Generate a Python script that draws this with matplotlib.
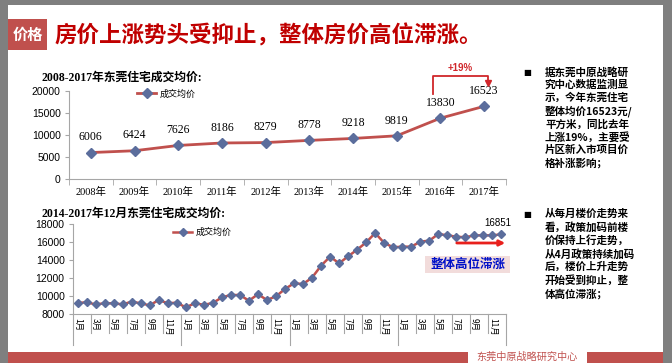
import matplotlib.pyplot as plt
from matplotlib.patches import Rectangle
from matplotlib.lines import Line2D

W, H = 672, 363

def fx(x):
    return x / W

def fy(y):
    return 1 - y / H

CJK = ['Noto Sans CJK SC', 'DejaVu Sans']
SERIF_CJK = ['Liberation Serif', 'Noto Sans CJK SC']

# 年度数据
years = ['2008年', '2009年', '2010年', '2011年', '2012年',
         '2013年', '2014年', '2015年', '2016年', '2017年']
annual_price = [6006, 6424, 7626, 8186, 8279, 8778, 9218, 9819, 13830, 16523]

# 月度数据 2014.1 - 2017.12
monthly_price = [
    9220, 9300, 9070, 9190, 9190, 9070, 9370, 9190, 8960, 9560, 9190, 9260,
    8740, 9190, 9020, 9220, 9850, 10110, 10110, 9480, 10190, 9560, 9960, 10780,
    11410, 11330, 12040, 13370, 14370, 13630, 14410, 15150, 15960, 17000, 15890, 15410,
    15480, 15480, 16040, 16150, 16890, 16740, 16590, 16520, 16740, 16740, 16740, 16851,
]
month_labels = ['1月', '3月', '5月', '7月', '9月', '11月'] * 4

text_top = ['据东莞中原战略研', '究中心数据监测显', '示，今年东莞住宅', '整体均价16523元/',
            '平方米，同比去年', '上涨19%，主要受', '片区新入市项目价', '格补涨影响；']
text_bottom = ['从每月楼价走势来', '看，政策加码前楼', '价保持上行走势，', '从4月政策持续加码',
               '后，楼价上升走势', '开始受到抑止，整', '体高位滞涨；']

line_c = '#c0504d'
mark_c = '#5b6d9c'
axis_c = '#a6a6a6'

fig = plt.figure(figsize=(6.72, 3.63), dpi=100)
fig.patch.set_facecolor('#7f7f7f')
fig.add_artist(Rectangle((fx(8), 0), fx(663) - fx(8), fy(5), transform=fig.transFigure,
                         facecolor='white', edgecolor='none', zorder=-10))

# 标题
fig.add_artist(Rectangle((fx(8), fy(50)), fx(47) - fx(8), (50 - 19) / H, transform=fig.transFigure,
                         facecolor='#c0504d', edgecolor='none'))
fig.text(fx(27.5), fy(35), '价格', color='white', fontsize=11, fontweight='bold',
         family=CJK, ha='center', va='center')
fig.text(fx(55), fy(36), '房价上涨势头受抑止，整体房价高位滞涨。', color='#c00000', fontsize=16.2,
         fontweight='bold', family=CJK, ha='left', va='center')

# 上图
ax1 = fig.add_axes([fx(69), fy(179), fx(506) - fx(69), (179 - 91) / H])
ax1.set_facecolor('none')
x1 = list(range(len(years)))
ax1.plot(x1, annual_price, color=line_c, lw=2, marker='D', ms=5, mfc=mark_c, mec=mark_c,
         label='成交均价')
ax1.set_xlim(-0.5, len(years) - 0.5)
ax1.set_ylim(0, 20000)
ax1.set_yticks(range(0, 20001, 5000))
ax1.set_xticks(x1)
ax1.set_xticklabels(years, family=SERIF_CJK, fontsize=7.5)
ax1.set_xticks([i - 0.5 for i in range(len(years) + 1)], minor=True)
ax1.tick_params(axis='x', which='major', length=0, pad=6)
ax1.tick_params(axis='x', which='minor', length=4, color=axis_c, direction='out')
ax1.tick_params(axis='y', length=3, color=axis_c, labelsize=7.5, pad=3)
for lab in ax1.get_yticklabels():
    lab.set_family('Liberation Sans')
for s in ['top', 'right']:
    ax1.spines[s].set_visible(False)
for s in ['left', 'bottom']:
    ax1.spines[s].set_color(axis_c)
for i, v in enumerate(annual_price):
    ax1.annotate(str(v), (i, v), xytext=(0, 11), textcoords='offset points', ha='center',
                 va='center', fontsize=8.5, family='Liberation Serif')
ax1.legend(loc='upper left', bbox_to_anchor=((133 - 69) / 437, 1.06), frameon=False,
           prop={'family': CJK, 'size': 6.5}, handlelength=2.2, handletextpad=0.3,
           borderaxespad=0)

fig.text(fx(42), fy(78), '2008-2017年东莞住宅成交均价:', fontsize=8.5, fontweight='bold',
         family=SERIF_CJK, ha='left', va='center')

# +19% 标注
red = '#d0262a'
fig.add_artist(Line2D([fx(433), fx(433), fx(488), fx(488)], [fy(94), fy(76), fy(76), fy(81)],
                      transform=fig.transFigure, color=red, lw=1.3))
fig.add_artist(Line2D([fx(488)], [fy(83)], transform=fig.transFigure, color=red,
                      marker='v', ms=4, lw=0))
fig.text(fx(460), fy(68), '+19%', color=red, fontsize=7, fontweight='bold',
         family='Liberation Sans', ha='center', va='center')

# 下图
ax2 = fig.add_axes([fx(73), fy(314), fx(506) - fx(73), (314 - 224) / H])
ax2.set_facecolor('none')
x2 = list(range(len(monthly_price)))
ax2.plot(x2, monthly_price, color=line_c, lw=1.8, marker='D', ms=4.2, mfc=mark_c, mec=mark_c,
         label='成交均价')
ax2.set_xlim(-0.5, len(monthly_price) - 0.5)
ax2.set_ylim(8000, 18000)
ax2.set_yticks(range(8000, 18001, 2000))
ax2.set_xticks(x2[::2])
ax2.set_xticklabels(month_labels, family=CJK, fontsize=6, rotation=270)
ax2.tick_params(axis='x', length=0, pad=3)
ax2.tick_params(axis='y', length=3, color=axis_c, labelsize=7.5, pad=3)
for lab in ax2.get_yticklabels():
    lab.set_family('Liberation Sans')
for s in ['top', 'right']:
    ax2.spines[s].set_visible(False)
for s in ['left', 'bottom']:
    ax2.spines[s].set_color(axis_c)
tr = ax2.get_xaxis_transform()
for k in range(25):
    xb = -0.5 + 2 * k
    depth = (345 - 314) / 90 if k % 6 == 0 else (333 - 314) / 90
    ax2.plot([xb, xb], [0, -depth], transform=tr, color=axis_c, lw=0.8, clip_on=False)
ax2.annotate(str(monthly_price[-1]), (x2[-1], monthly_price[-1]), xytext=(-3, 8),
             textcoords='offset points', ha='center', va='center', fontsize=7,
             family='Liberation Sans')
ax2.legend(loc='upper left', bbox_to_anchor=((169 - 73) / 433, 1.0), frameon=False,
           prop={'family': CJK, 'size': 6.5}, handlelength=2.2, handletextpad=0.3,
           borderaxespad=0)

fig.text(fx(42), fy(214), '2014-2017年12月东莞住宅成交均价:', fontsize=8.5, fontweight='bold',
         family=SERIF_CJK, ha='left', va='center')

# 红色箭头和文本框
fig.add_artist(plt.Annotation('', xy=(fx(508), fy(243)), xytext=(fx(454), fy(243)),
                              xycoords='figure fraction',
                              arrowprops=dict(arrowstyle='-|>', color='#e8201c', lw=2,
                                              mutation_scale=8)))
fig.add_artist(Rectangle((fx(425), fy(273)), (510 - 425) / W, (273 - 256) / H,
                         transform=fig.transFigure, facecolor='#f2dcdb', edgecolor='none'))
fig.text(fx(468), fy(264.5), '整体高位滞涨', color='#0010c8', fontsize=9, fontweight='bold',
         family=CJK, ha='center', va='center')

# 右侧说明文字
for i, t in enumerate(text_top):
    fig.text(fx(545), fy(72 + i * 13), t, fontsize=7.6, fontweight='bold', family=CJK,
             ha='left', va='center')
fig.text(fx(527), fy(72), '■', fontsize=6, family='DejaVu Sans', ha='center', va='center')
for i, t in enumerate(text_bottom):
    fig.text(fx(545), fy(214 + i * 13.3), t, fontsize=7.6, fontweight='bold', family=CJK,
             ha='left', va='center')
fig.text(fx(527), fy(214), '■', fontsize=6, family='DejaVu Sans', ha='center', va='center')

# 底部色条
fig.add_artist(Rectangle((fx(8), 0), fx(468) - fx(8), (363 - 352) / H, transform=fig.transFigure,
                         facecolor='#c0504d', edgecolor='none'))
fig.add_artist(Rectangle((fx(587), 0), fx(663) - fx(587), (363 - 352) / H,
                         transform=fig.transFigure, facecolor='#c0504d', edgecolor='none'))
fig.text(fx(527), fy(357), '东莞中原战略研究中心', color='#c0504d', fontsize=7.3, family=CJK,
         ha='center', va='center')

fig.savefig('out.png', dpi=100, facecolor=fig.get_facecolor())
